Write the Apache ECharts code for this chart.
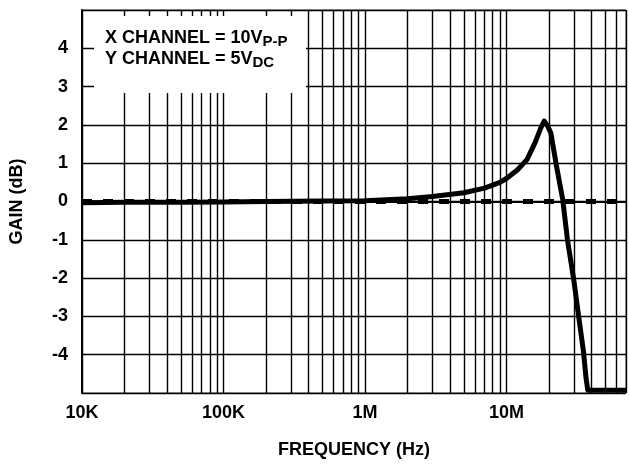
<!DOCTYPE html>
<html>
<head>
<meta charset="utf-8">
<script src="https://cdn.jsdelivr.net/npm/echarts@6/dist/echarts.min.js"></script>
<style>
  html, body { margin: 0; padding: 0; background: #fff; }
  #chart { width: 629px; height: 464px; }
</style>
</head>
<body>
<div id="chart"></div>
<script>
// gain vs frequency
const freq = [1e4, 2e4, 5e4, 1e5, 2e5, 5e5, 1e6, 2e6, 3e6, 5e6, 7e6, 9e6, 10e6, 12e6, 14e6,
  16e6, 17.5e6, 18.5e6, 19.5e6, 20.6e6, 22.6e6, 25.0e6, 27.0e6, 29.9e6, 32.4e6, 35.1e6, 36.5e6, 37.6e6, 70e6];
const gain = [-0.03, -0.02, -0.02, -0.01, 0, 0.01, 0.02, 0.07, 0.13, 0.23, 0.35, 0.5, 0.6, 0.83, 1.1,
  1.55, 1.92, 2.1, 1.98, 1.79, 0.92, 0.05, -1.0, -2.04, -3.0, -3.94, -4.6, -4.93, -4.93];

// dashed 0 dB reference
const refFreq = [1e4, 7e7];
const refGain = [0, 0];

const xTickValues = [1e4, 1e5, 1e6, 1e7];
const xTickLabels = ["10K", "100K", "1M", "10M"];
const yTickValues = [-4, -3, -2, -1, 0, 1, 2, 3, 4];

// log grid lines between the decades
const minorFreqs = [];
[1e4, 1e5, 1e6, 1e7].forEach((d) => {
  for (let m = 2; m <= 9; m++) {
    if (d * m < 7e7) minorFreqs.push(d * m);
  }
});

const font = "Liberation Sans, Arial, Helvetica, sans-serif";
const chart = echarts.init(document.getElementById("chart"));

chart.setOption({
  animation: false,
  grid: {
    left: 81,
    right: -3,
    top: 10,
    bottom: 71,
    show: true,
    borderColor: "#555",
    borderWidth: 1,
  },
  xAxis: {
    type: "log",
    logBase: 10,
    min: 1e4,
    max: 7e7,
    name: "FREQUENCY (Hz)",
    nameLocation: "middle",
    nameGap: 48,
    nameTextStyle: { fontFamily: font, fontWeight: "bold", fontSize: 18, color: "#000" },
    axisLine: { lineStyle: { color: "#000", width: 2 } },
    axisTick: { show: false },
    axisLabel: {
      margin: 11,
      fontFamily: font,
      fontWeight: "bold",
      fontSize: 18,
      color: "#000",
      formatter: (v) => {
        const i = xTickValues.findIndex((t) => Math.abs(v - t) / t < 1e-6);
        return i >= 0 ? xTickLabels[i] : "";
      },
    },
    splitLine: { show: true, lineStyle: { color: "#000", width: 1.4 } },
  },
  yAxis: {
    type: "value",
    min: -5,
    max: 5,
    interval: 1,
    name: "GAIN (dB)",
    nameLocation: "middle",
    nameGap: 56,
    nameTextStyle: { fontFamily: font, fontWeight: "bold", fontSize: 18, color: "#000" },
    axisLine: { show: true, lineStyle: { color: "#000", width: 2 } },
    axisTick: { show: false },
    axisLabel: {
      margin: 14,
      fontFamily: font,
      fontWeight: "bold",
      fontSize: 18,
      color: "#000",
      formatter: (v) => (yTickValues.indexOf(v) >= 0 ? String(v) : ""),
    },
    splitLine: { show: true, lineStyle: { color: "#000", width: 1.4 } },
  },
  graphic: [
    {
      type: "rect",
      z: 100,
      shape: { x: 94, y: 16, width: 212, height: 77 },
      style: { fill: "#fff" },
      silent: true,
    },
    {
      type: "text",
      z: 101,
      x: 105,
      y: 28,
      silent: true,
      style: {
        text: "{m|X CHANNEL = 10V}{s|P-P}\n{m|Y CHANNEL = 5V}{s|DC}",
        rich: {
          m: { fontFamily: font, fontWeight: "bold", fontSize: 18, lineHeight: 21, fill: "#000" },
          s: { fontFamily: font, fontWeight: "bold", fontSize: 15, lineHeight: 12, verticalAlign: "bottom", fill: "#000" },
        },
      },
    },
  ],
  series: [
    {
      name: "ref",
      type: "line",
      z: 2,
      data: refFreq.map((f, i) => [f, refGain[i]]),
      symbol: "none",
      lineStyle: { color: "#000", width: 5, type: [10, 11], opacity: 1 },
      markLine: {
        silent: true,
        symbol: "none",
        label: { show: false },
        lineStyle: { color: "#000", width: 1.4, type: "solid" },
        data: minorFreqs.map((f) => ({ xAxis: f })),
      },
    },
    {
      name: "gain",
      type: "line",
      z: 3,
      data: freq.map((f, i) => [f, gain[i]]),
      symbol: "none",
      smooth: false,
      lineStyle: { color: "#000", width: 5, join: "round" },
    },
  ],
});
</script>
</body>
</html>
